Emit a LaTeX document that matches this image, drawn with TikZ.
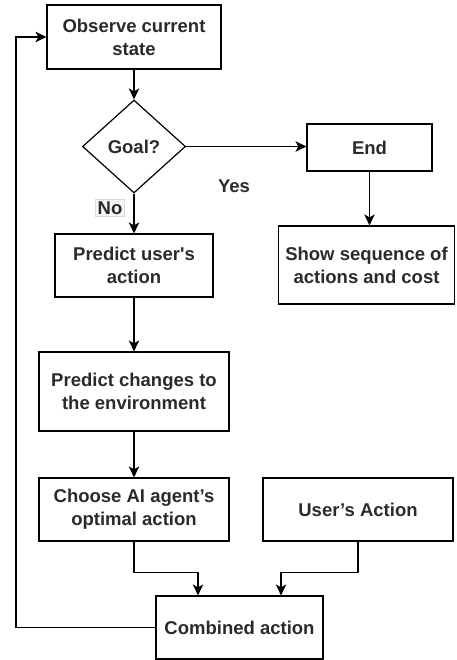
\documentclass[tikz,border=0pt]{standalone}
\usepackage{fontspec}
\setmainfont{Liberation Sans}
\usetikzlibrary{shapes.geometric,arrows.meta,calc}
\definecolor{txt}{HTML}{2a2a2a}
\begin{document}
\begin{tikzpicture}[x=1pt,y=-1pt,
  box/.style={draw=black, line width=1.2pt, rectangle, inner sep=2pt, align=center,
    text=txt, font=\bfseries\fontsize{18.5}{23}\selectfont},
  dia/.style={draw=black, line width=1.2pt, diamond, inner sep=0pt, align=center,
    text=txt, font=\bfseries\fontsize{18.5}{23}\selectfont},
  lbl/.style={text=txt, font=\bfseries\fontsize{18.5}{23}\selectfont, inner sep=2pt},
  arr/.style={draw=black, line width=1.2pt, -{Stealth[length=11pt,width=10.5pt,inset=3pt]}},
  ln/.style={draw=black, line width=1.2pt}]
\useasboundingbox (0,0) rectangle (456,660);
\node[box, minimum width=174pt, minimum height=64pt] (obs) at (134,37) {Observe current\\state};
\node[dia, minimum width=103pt, minimum height=93pt] (goal) at (134,146.5) {Goal?};
\node[box, minimum width=125pt, minimum height=47pt] (end) at (369.5,147.5) {End};
\node[box, minimum width=176pt, minimum height=78pt] (show) at (366.5,265) {Show sequence of\\actions and cost};
\node[box, minimum width=158pt, minimum height=63pt] (pua) at (134,265.5) {Predict user\textquotesingle s\\action};
\node[box, minimum width=190pt, minimum height=79pt] (pce) at (134,391.5) {Predict changes to\\the environment};
\node[box, minimum width=190pt, minimum height=63pt] (cho) at (134,509.5) {Choose AI agent’s\\optimal action};
\node[box, minimum width=190pt, minimum height=63pt] (ua) at (358,509.5) {User’s Action};
\node[box, minimum width=167pt, minimum height=63pt] (comb) at (239.5,627.5) {Combined action};
\coordinate (loopx) at (16,0);

\draw[arr] (obs.south) -- (goal.north);
\draw[arr] (goal.east) -- (goal.east -| end.west);
\draw[arr] (goal.south) -- (pua.north);
\draw[arr] (end.south) -- (end.south |- show.north);
\draw[arr] (pua.south) -- (pce.north);
\draw[arr] (pce.south) -- (cho.north);
\draw[arr] (cho.south) -- ++(0,31) -| ([xshift=-41.5pt]comb.north);
\draw[arr] (ua.south) -- ++(0,31) -| ([xshift=41.5pt]comb.north);
\draw[arr] (comb.west) -| (loopx |- obs.west) -- (obs.west);

\node[lbl, fill=gray!8, draw=gray!30, line width=0.6pt] (no) at (110,208) {No};
\node[lbl] (yes) at (234,186) {Yes};
\end{tikzpicture}
\end{document}
